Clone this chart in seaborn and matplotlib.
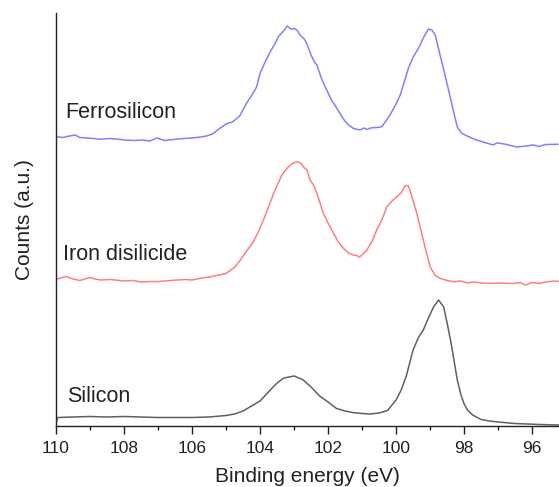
import pandas as pd
import matplotlib
matplotlib.use("Agg")
import matplotlib.pyplot as plt
from matplotlib.ticker import MultipleLocator
import seaborn as sns

# スペクトル値（図から読み取り、縦方向は積み上げ済みのオフセット込み）
si_energy = [110.0, 109.95, 109.5, 109.0, 108.5, 108.0, 107.5, 107.0, 106.5, 106.0,
             105.5, 105.0, 104.75, 104.5, 104.2, 104.0, 103.7, 103.5, 103.3, 103.0,
             102.75, 102.5, 102.25, 102.0, 101.75, 101.5, 101.25, 101.0, 100.75, 100.5,
             100.25, 100.0, 99.85, 99.7, 99.5, 99.35, 99.2, 99.05, 98.9, 98.75,
             98.6, 98.5, 98.4, 98.3, 98.2, 98.1, 98.0, 97.9, 97.75, 97.5,
             97.25, 97.0, 96.5, 96.0, 95.5, 95.2]
si_counts = [3, 8.5, 9, 9.5, 9, 9.5, 9, 8.5, 8.5, 8.5,
             9, 10.5, 12, 15, 21, 25, 36, 43, 48, 50,
             46.5, 39, 30, 24, 17.5, 15, 13.3, 12.5, 12, 13,
             15.5, 26, 36, 50, 76, 88, 96, 108, 119, 126,
             119, 103, 86, 66, 46, 32, 22, 16, 11, 6.5,
             5, 4, 2.5, 1.8, 1.2, 1]

fesi2_energy = [110.0, 109.85, 109.7, 109.5, 109.3, 109.15, 109.0, 108.85, 108.7, 108.4,
                108.0, 107.75, 107.5, 107.25, 107.0, 106.7, 106.45, 106.2, 106.0, 105.76,
                105.5, 105.2, 105.0, 104.75, 104.6, 104.44, 104.2, 104.05, 103.9, 103.75,
                103.6, 103.45, 103.36, 103.2, 103.05, 102.92, 102.8, 102.73, 102.62, 102.53,
                102.43, 102.33, 102.14, 102.0, 101.84, 101.7, 101.55, 101.4, 101.26, 101.15,
                101.08, 100.97, 100.86, 100.7, 100.57, 100.42, 100.27, 100.12, 99.98, 99.85,
                99.74, 99.65, 99.59, 99.5, 99.39, 99.3, 99.2, 99.1, 99.0, 98.85,
                98.71, 98.5, 98.31, 98.1, 97.9, 97.7, 97.5, 97.33, 97.1, 96.9,
                96.7, 96.5, 96.35, 96.2, 96.0, 95.8, 95.6, 95.37, 95.2]
fesi2_counts = [146.7, 148, 149.5, 147, 145.5, 147, 148.5, 147, 146, 146.5,
                145, 145.5, 144, 144.5, 144.5, 145.3, 146, 146.5, 146, 147.7,
                149, 151, 152.5, 158.7, 165, 172.7, 184.3, 194, 206, 219,
                232.7, 244, 251, 258, 262.5, 264.3, 263, 259.3, 256, 246,
                241, 232.7, 212.7, 203, 192.7, 184, 177.7, 173, 171, 170.5,
                168.7, 172, 176, 185, 196, 206, 219.3, 225, 229.3, 233,
                240, 240.5, 236, 225, 212.7, 200, 186, 172, 159.3, 150.5,
                147.7, 145.5, 144.3, 145, 143, 144, 143, 142.7, 142.7, 143,
                142.5, 142.7, 143.5, 141, 143.5, 142.5, 144, 145, 144.5]

fesi_energy = [110.0, 109.8, 109.6, 109.44, 109.3, 109.1, 108.9, 108.7, 108.45, 108.2,
               108.0, 107.7, 107.45, 107.24, 107.04, 106.8, 106.55, 106.26, 106.0, 105.76,
               105.57, 105.4, 105.18, 105.0, 104.8, 104.6, 104.4, 104.2, 104.1, 104.0,
               103.85, 103.7, 103.55, 103.46, 103.3, 103.2, 103.1, 103.0, 102.92, 102.8,
               102.7, 102.63, 102.5, 102.4, 102.33, 102.2, 102.09, 101.9, 101.74, 101.55,
               101.4, 101.25, 101.06, 100.95, 100.85, 100.75, 100.67, 100.55, 100.42, 100.3,
               100.18, 100.0, 99.88, 99.75, 99.64, 99.5, 99.34, 99.2, 99.05, 98.95,
               98.85, 98.75, 98.61, 98.45, 98.31, 98.2, 98.07, 97.85, 97.63, 97.4,
               97.14, 97.05, 96.9, 96.75, 96.45, 96.2, 95.96, 95.8, 95.6, 95.24]
fesi_counts = [289.3, 288.5, 290, 291, 288.5, 288, 287.5, 286.7, 287.5, 287,
               286, 285.5, 286, 285, 288, 285.5, 286.5, 287.5, 288, 289,
               290, 292, 297.7, 302, 304.3, 310, 322.7, 333, 339.3, 352.7,
               364, 374.3, 383, 389.3, 395.5, 400, 397, 397.5, 396, 390,
               387, 382.7, 371, 364, 361, 348, 339.3, 326, 317.7, 307,
               301, 297.5, 296, 298, 296.5, 298, 298.3, 298.5, 299.3, 305,
               311, 322, 331, 345, 357.7, 369, 377.7, 388, 397, 396,
               391, 377, 357.7, 335, 314.3, 299, 292.7, 289, 286, 283.5,
               281, 283, 282.5, 281.5, 279, 280, 281, 279.5, 281.5, 281.7]

sample_names = ["Silicon", "Iron disilicide", "Ferrosilicon"]
line_colors = ["#606060", "#ff7f7f", "#8080ff"]
label_pos = [(109.68, 30), (109.8, 171), (109.74, 313)]

sns.set_style("ticks")
plt.rcParams['font.family'] = ['Liberation Sans', 'DejaVu Sans']

frames = []
for name, e, c in zip(sample_names,
                      [si_energy, fesi2_energy, fesi_energy],
                      [si_counts, fesi2_counts, fesi_counts]):
    frames.append(pd.DataFrame({"Energy": e, "Counts": c, "Sample": name}))
df = pd.concat(frames, ignore_index=True)

fig = plt.figure(figsize=(5.59, 4.87), dpi=100)
ax = fig.add_axes([56 / 559, 61 / 487, 503 / 559, 413 / 487])

sns.lineplot(data=df, x="Energy", y="Counts", hue="Sample",
             hue_order=sample_names, palette=dict(zip(sample_names, line_colors)),
             linewidth=1.1, ax=ax, legend=False)

for name, (tx, ty) in zip(sample_names, label_pos):
    ax.text(tx, ty, name, fontsize=15.5, color="#222222", ha="left", va="center")

ax.set_xlim(110, 95.21)
ax.set_ylim(0, 413)
ax.xaxis.set_major_locator(MultipleLocator(2))
ax.xaxis.set_minor_locator(MultipleLocator(1))
ax.set_yticks([])
ax.tick_params(axis="x", which="major", direction="out", length=6, width=1.0,
               labelsize=12.5, pad=5, bottom=True, color="#222222", labelcolor="#222222")
ax.tick_params(axis="x", which="minor", direction="out", length=3, width=1.0,
               bottom=True, color="#222222")
for side in ["top", "right"]:
    ax.spines[side].set_visible(False)
for side in ["left", "bottom"]:
    ax.spines[side].set_color("#222222")
    ax.spines[side].set_linewidth(1.0)

ax.set_xlabel("Binding energy (eV)", fontsize=15, color="#222222", labelpad=8)
ax.set_ylabel("Counts (a.u.)", fontsize=15, color="#222222", labelpad=16)

fig.savefig("out.png", dpi=100)
